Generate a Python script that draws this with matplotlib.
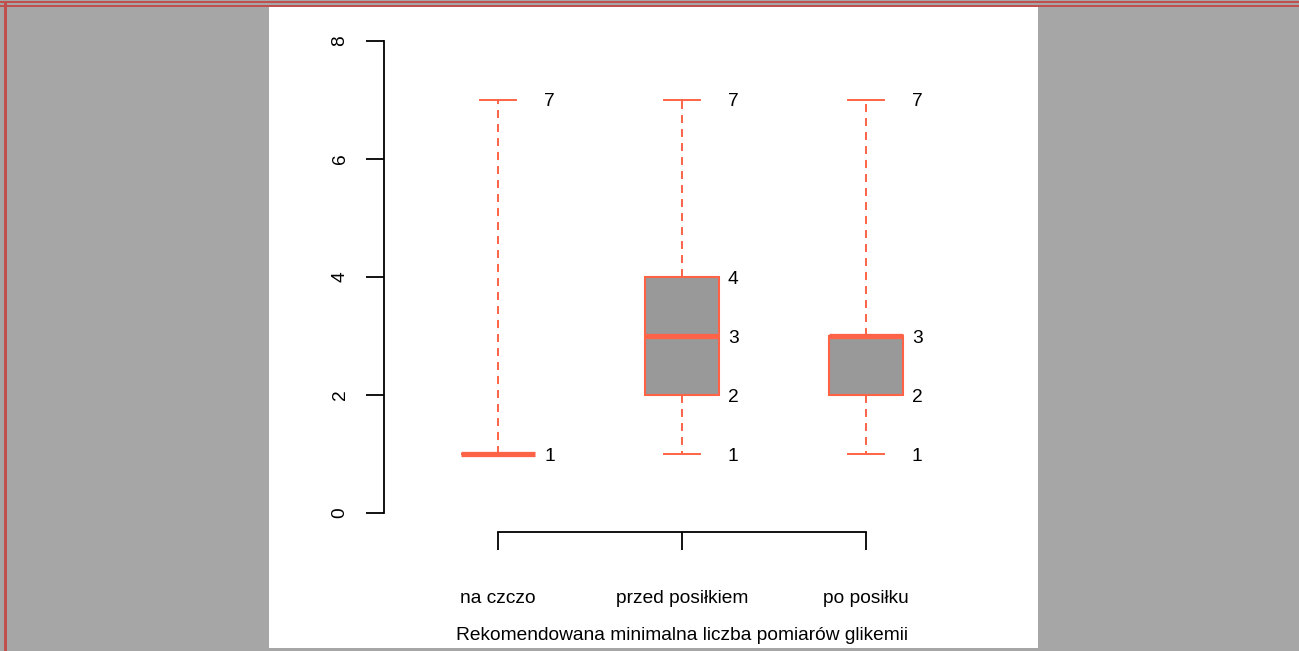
import matplotlib
matplotlib.use("Agg")
import matplotlib.pyplot as plt
from matplotlib.patches import Rectangle

plt.rcParams['font.family'] = ['Liberation Sans', 'DejaVu Sans']

groups = ["na czczo", "przed posiłkiem", "po posiłku"]
whis_lo = [1, 1, 1]
q1 = [1, 2, 2]
med = [1, 3, 3]
q3 = [1, 4, 3]
whis_hi = [7, 7, 7]
xlabel = "Rekomendowana minimalna liczba pomiarów glikemii"
yticks = [0, 2, 4, 6, 8]

line_col = "#ff6347"
fill_col = "#999999"
fs = 13.8

fig = plt.figure(figsize=(12.99, 6.51), dpi=100)
fig.patch.set_facecolor("#a6a6a6")
W, H = 1299, 651


def fx(px):
    return px / W


def fy(py):
    return 1 - py / H


# white page and red frame lines
fig.patches.append(Rectangle((fx(269), fy(648)), fx(1038) - fx(269), fy(7) - fy(648),
                             transform=fig.transFigure, facecolor="white", edgecolor="none", zorder=-2))
for y0, y1 in [(0.6, 3.0), (4.6, 7.0)]:
    fig.patches.append(Rectangle((0, fy(y1)), 1, fy(y0) - fy(y1), transform=fig.transFigure,
                                 facecolor="#c0504d", edgecolor="none", zorder=-1))
fig.patches.append(Rectangle((fx(3.6), 0), fx(3.6), fy(1) - 0, transform=fig.transFigure,
                             facecolor="#c0504d", edgecolor="none", zorder=-1))

ax = fig.add_axes([fx(384), fy(532), fx(980) - fx(384), fy(22) - fy(532)])
ax.set_facecolor("none")
ax.set_zorder(2)

stats = []
for i, g in enumerate(groups):
    stats.append(dict(label=g, whislo=whis_lo[i], q1=q1[i], med=med[i], q3=q3[i],
                      whishi=whis_hi[i], fliers=[]))

pos = [1, 2, 3]
ax.bxp(stats, positions=pos, widths=0.4, capwidths=0.2, patch_artist=True,
       boxprops=dict(facecolor=fill_col, edgecolor=line_col, linewidth=1.5),
       medianprops=dict(color=line_col, linewidth=3.8, solid_capstyle="butt"),
       whiskerprops=dict(color=line_col, linewidth=1.4, linestyle=(0, (4.1, 3.1))),
       capprops=dict(color=line_col, linewidth=1.4))

# value labels next to each box
for i, p in enumerate(pos):
    vals = sorted(set([whis_lo[i], q1[i], med[i], q3[i], whis_hi[i]]))
    for v in vals:
        ax.text(p + 0.25, v, str(v), ha="left", va="center_baseline", fontsize=fs)

ax.set_xlim(0.38, 3.62)
ax.set_ylim(-0.32, 8.32)

for s in ["top", "right"]:
    ax.spines[s].set_visible(False)
ax.spines["left"].set_bounds(0, 8)
ax.spines["bottom"].set_bounds(1, 3)
ax.spines["left"].set_linewidth(1.3)
ax.spines["bottom"].set_linewidth(1.3)

ax.set_yticks(yticks)
ax.set_yticklabels([str(t) for t in yticks], rotation=90, va="center", fontsize=fs)
ax.set_xticks(pos)
ax.set_xticklabels(groups, fontsize=fs)
ax.tick_params(axis="y", length=13, width=1.3, pad=12.5)
ax.tick_params(axis="x", length=13, width=1.3, pad=28.5)
ax.set_xlabel(xlabel, fontsize=fs, labelpad=15)

fig.savefig("out.png", dpi=100, facecolor=fig.get_facecolor())
